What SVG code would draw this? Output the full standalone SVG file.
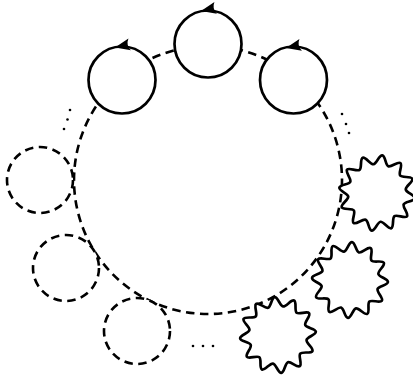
<svg xmlns="http://www.w3.org/2000/svg" width="413" height="376" viewBox="0 0 413 376">
<style>
.solid{fill:#fff;stroke:#000;stroke-width:2.7}
.dash{fill:none;stroke:#000;stroke-width:2.6;stroke-dasharray:8.5 5.5}
.dashn{fill:#fff;stroke:#000;stroke-width:2.6;stroke-dasharray:8.5 5.5}
.arr{fill:#000;stroke:none}
.dot{fill:#000}
</style>
<defs>
<path id="star" class="solid" d="M38,0 C38,3.2 28.84,4.42 28.01,7.51 C27.18,10.6 34.51,16.23 32.91,19 C31.31,21.77 22.77,18.25 20.51,20.51 C18.25,22.77 21.77,31.31 19,32.91 C16.23,34.51 10.6,27.18 7.51,28.01 C4.42,28.84 3.2,38 0,38 C-3.2,38 -4.42,28.84 -7.51,28.01 C-10.6,27.18 -16.23,34.51 -19,32.91 C-21.77,31.31 -18.25,22.77 -20.51,20.51 C-22.77,18.25 -31.31,21.77 -32.91,19 C-34.51,16.23 -27.18,10.6 -28.01,7.51 C-28.84,4.42 -38,3.2 -38,0 C-38,-3.2 -28.84,-4.42 -28.01,-7.51 C-27.18,-10.6 -34.51,-16.23 -32.91,-19 C-31.31,-21.77 -22.77,-18.25 -20.51,-20.51 C-18.25,-22.77 -21.77,-31.31 -19,-32.91 C-16.23,-34.51 -10.6,-27.18 -7.51,-28.01 C-4.42,-28.84 -3.2,-38 0,-38 C3.2,-38 4.42,-28.84 7.51,-28.01 C10.6,-27.18 16.23,-34.51 19,-32.91 C21.77,-31.31 18.25,-22.77 20.51,-20.51 C22.77,-18.25 31.31,-21.77 32.91,-19 C34.51,-16.23 27.18,-10.6 28.01,-7.51 C28.84,-4.42 38,-3.2 38,0 Z"/>
<path id="ah" class="arr" d="M0,0 L15,-6 Q11,0 15,6 Z"/>
</defs>
<g id="connectors">
<circle class="dash" cx="208" cy="180" r="134"/>
</g>
<g id="node-top-left">
<circle class="solid" cx="122" cy="80" r="33.5"/>
<use href="#ah" transform="translate(115,47.5) rotate(-12)"/>
</g>
<g id="node-top-mid">
<circle class="solid" cx="208" cy="44" r="33.5"/>
<use href="#ah" transform="translate(201,11) rotate(-12)"/>
</g>
<g id="node-top-right">
<circle class="solid" cx="293.5" cy="80" r="33.5"/>
<use href="#ah" transform="translate(286,48) rotate(-12)"/>
</g>
<g id="node-dash-1"><circle class="dashn" cx="40" cy="180" r="33"/></g>
<g id="node-dash-2"><circle class="dashn" cx="66" cy="268" r="33"/></g>
<g id="node-dash-3"><circle class="dashn" cx="137" cy="331" r="33"/></g>
<g id="node-star-1"><use href="#star" transform="translate(377,193) rotate(8)"/></g>
<g id="node-star-2"><use href="#star" transform="translate(350,280) rotate(3)"/></g>
<g id="node-star-3"><use href="#star" transform="translate(278,335) rotate(-5)"/></g>
<g id="dots">
<circle class="dot" cx="70" cy="110" r="1.3"/>
<circle class="dot" cx="67.5" cy="119.5" r="1.3"/>
<circle class="dot" cx="64" cy="129" r="1.3"/>
<circle class="dot" cx="342" cy="114" r="1.3"/>
<circle class="dot" cx="346" cy="124" r="1.3"/>
<circle class="dot" cx="349" cy="133" r="1.3"/>
<circle class="dot" cx="193" cy="346" r="1.3"/>
<circle class="dot" cx="203" cy="346" r="1.3"/>
<circle class="dot" cx="213" cy="346" r="1.3"/>
</g>
</svg>
